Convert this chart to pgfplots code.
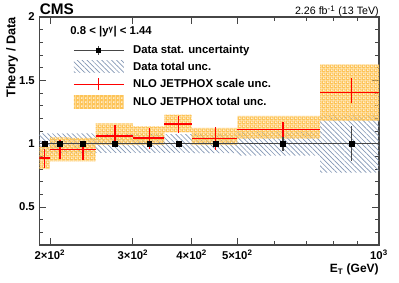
\documentclass[border=0pt]{standalone}
\usepackage{fontspec}
\setmainfont{Liberation Sans}
\usepackage{pgfplots}
\pgfplotsset{compat=1.18}
\usepackage{pgfplotstable}
\usetikzlibrary{patterns,patterns.meta}
\usepgfplotslibrary{fillbetween}

\definecolor{jorange}{RGB}{253,196,88}
\definecolor{hatchblue}{RGB}{130,150,180}
\definecolor{axgray}{RGB}{70,70,70}

\tikzdeclarepattern{
  name=orangeholes,
  type=uncolored,
  bounding box={(0pt,0pt) and (3.2pt,3.2pt)},
  tile size={(3.2pt,3.2pt)},
  code={\pgfseteorule
        \pgfpathrectangle{\pgfpoint{0pt}{0pt}}{\pgfpoint{3.2pt}{3.2pt}}
        \pgfpathcircle{\pgfpoint{1.6pt}{1.6pt}}{0.9pt}
        \pgfusepath{fill}}
}

% data total uncertainty band (bin left edge, low, high)
\pgfplotstableread{
x lo hi
190 0.925 1.082
200 0.925 1.082
220 0.925 1.082
250 0.927 1.075
300 0.927 1.075
350 0.927 1.075
400 0.925 1.075
500 0.905 1.095
750 0.772 1.228
1000 0.772 1.228
}\datatot

% NLO JETPHOX total uncertainty band
\pgfplotstableread{
x lo hi
190 0.800 0.975
200 0.860 1.050
220 0.860 1.045
250 0.990 1.160
300 0.990 1.136
350 1.090 1.230
400 0.990 1.125
500 1.040 1.220
750 1.180 1.625
1000 1.180 1.625
}\theotot

% data with statistical uncertainty
\pgfplotstableread{
x xm xp y ey
195 5 5 1 0.004
210 10 10 1 0.005
235 15 15 1 0.006
275 25 25 1 0.007
325 25 25 1 0.008
375 25 25 1 0.012
450 50 50 1 0.015
625 125 125 1 0.055
875 125 125 1 0.140
}\datastat

% NLO JETPHOX with scale uncertainty
\pgfplotstableread{
x xm xp y elo ehi
195 5 5 0.887 0.077 0.068
210 10 10 0.955 0.075 0.075
235 15 15 0.952 0.078 0.068
275 25 25 1.060 0.075 0.090
325 25 25 1.045 0.085 0.075
375 25 25 1.155 0.070 0.065
450 50 50 1.040 0.090 0.095
625 125 125 1.110 0.055 0.058
875 125 125 1.405 0.085 0.112
}\theoscale

\begin{document}
\begin{tikzpicture}
\begin{axis}[
  at={(0,0)}, anchor=south west,
  scale only axis, width=254.625pt, height=171pt,
  xmode=log, xmin=190, xmax=1000, ymin=0.2, ymax=2,
  xtick={200,300,400,500,1000},
  xticklabels={2×10\textsuperscript{2},3×10\textsuperscript{2},4×10\textsuperscript{2},5×10\textsuperscript{2},10\textsuperscript{3}},
  minor xtick={600,700,800,900},
  ytick={0.5,1,1.5,2},
  yticklabels={0.5,1,1.5,2},
  minor ytick={0.3,0.4,0.6,0.7,0.8,0.9,1.1,1.2,1.3,1.4,1.6,1.7,1.8,1.9},
  tick align=inside,
  major tick length=5pt, minor tick length=2.8pt,
  tick style={axgray, line width=0.6pt},
  axis line style={axgray, line width=0.9pt},
  ticklabel style={font=\bfseries\fontsize{8.5}{10}\selectfont, black},
  xlabel={E\textsubscript{T} (GeV)},
  xlabel style={at={(rel axis cs:1,0)}, anchor=north east, inner sep=0pt, yshift=-14pt, font=\bfseries\fontsize{9}{10}\selectfont},
  ylabel={Theory / Data},
  ylabel style={at={(rel axis cs:0,1)}, anchor=south east, inner sep=0pt, yshift=16pt, font=\bfseries\fontsize{9.5}{11}\selectfont},
  legend cell align=left,
  legend style={at={(rel axis cs:0,1)}, anchor=north west, xshift=25pt, yshift=-20.2pt,
    draw=none, fill=none, inner sep=0pt, row sep=3.6pt, column sep=6.5pt,
    font=\bfseries\fontsize{8.5}{10}\selectfont, nodes={inner sep=0pt}},
  clip=true,
]
\addlegendimage{legend image code/.code={
  \path[draw=none, fill=none] (0pt,-4.5pt) rectangle (37.5pt,4.5pt);
  \draw[axgray, line width=1pt] (0pt,0pt) -- (37.5pt,0pt);
  \draw[axgray, line width=1pt] (18.75pt,-3.5pt) -- (18.75pt,3.5pt);
  \fill[black, draw=none] (16.95pt,-1.8pt) rectangle (20.55pt,1.8pt);}}
\addlegendentry{Data stat. uncertainty}
\addlegendimage{legend image code/.code={
  \path[draw=none, pattern={Lines[angle=-45,distance=2.6pt,line width=0.5pt]}, pattern color=hatchblue] (0pt,-4.5pt) rectangle (37.5pt,4.5pt);}}
\addlegendentry{Data total unc.}
\addlegendimage{legend image code/.code={
  \path[draw=none, fill=none] (0pt,-4.5pt) rectangle (37.5pt,4.5pt);
  \draw[red, line width=1pt] (0pt,0pt) -- (37.5pt,0pt);
  \draw[red, line width=1pt] (18.75pt,-4.5pt) -- (18.75pt,4.5pt);}}
\addlegendentry{NLO JETPHOX scale unc.}
\addlegendimage{legend image code/.code={
  \path[draw=none, pattern=orangeholes, pattern color=jorange] (0pt,-4.8pt) rectangle (37.5pt,4.8pt);}}
\addlegendentry{NLO JETPHOX total unc.}

% data total band
\addplot[const plot, draw=none, name path=dlo, forget plot] table[x=x,y=lo]{\datatot};
\addplot[const plot, draw=none, name path=dhi, forget plot] table[x=x,y=hi]{\datatot};
\addplot[draw=none, pattern={Lines[angle=-45,distance=2.6pt,line width=0.5pt]}, pattern color=hatchblue, forget plot] fill between[of=dlo and dhi];

% theory total band
\addplot[const plot, draw=none, name path=tlo, forget plot] table[x=x,y=lo]{\theotot};
\addplot[const plot, draw=none, name path=thi, forget plot] table[x=x,y=hi]{\theotot};
\addplot[draw=none, pattern=orangeholes, pattern color=jorange, forget plot] fill between[of=tlo and thi];

% data points with stat uncertainty
\addplot[forget plot, only marks, mark=square*, mark size=1.8pt, black,
  error bars/.cd, x dir=both, x explicit, y dir=both, y explicit,
  error bar style={draw=axgray, line width=1.1pt}, error mark=none]
  table[x=x, y=y, x error minus=xm, x error plus=xp, y error plus=ey, y error minus=ey]{\datastat};

% theory with scale uncertainty
\addplot[forget plot, draw=none, mark=none, no markers,
  error bars/.cd, x dir=both, x explicit, y dir=both, y explicit,
  error bar style={draw=red, line width=1pt}, error mark=none]
  table[x=x, y=y, x error minus=xm, x error plus=xp, y error plus=ehi, y error minus=elo]{\theoscale};

\node[anchor=base west, inner sep=0pt, font=\bfseries\fontsize{8.5}{10}\selectfont]
  at (rel axis cs:0,1) [xshift=23pt, yshift=-13.5pt] {0.8 < |y\textsuperscript{γ}| < 1.44};
\end{axis}
\node[anchor=base west, inner sep=0pt, font=\bfseries\fontsize{11.5}{12}\selectfont] at (0pt,172.5pt) {CMS};
\node[anchor=base east, inner sep=0pt, font=\fontsize{8}{10}\selectfont] at (254.625pt,172.5pt) {2.26 fb\textsuperscript{-1} (13 TeV)};
\path (-29.625pt,-27.75pt) rectangle (269.625pt,183.75pt);
\end{tikzpicture}
\end{document}
